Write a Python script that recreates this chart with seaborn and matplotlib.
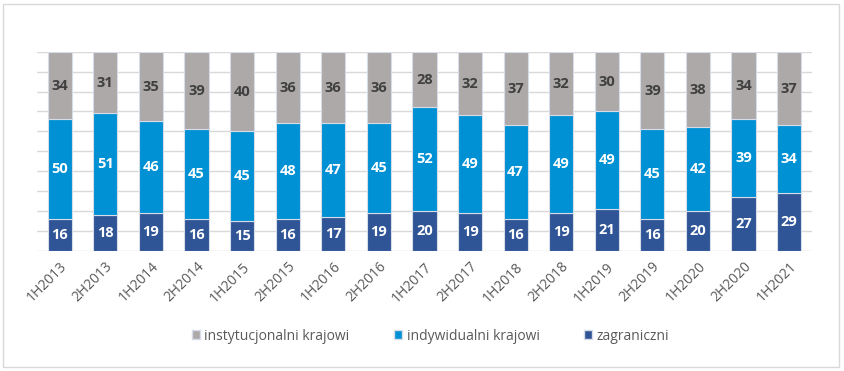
import numpy as np
import pandas as pd
import seaborn as sns
import matplotlib.pyplot as plt
from matplotlib.patches import Patch, FancyBboxPatch

# data (% share)
periods = ['1H2013', '2H2013', '1H2014', '2H2014', '1H2015', '2H2015', '1H2016', '2H2016',
           '1H2017', '2H2017', '1H2018', '2H2018', '1H2019', '2H2019', '1H2020', '2H2020', '1H2021']
zagraniczni = [16, 18, 19, 16, 15, 16, 17, 19, 20, 19, 16, 19, 21, 16, 20, 27, 29]
indywidualni = [50, 51, 46, 45, 45, 48, 47, 45, 52, 49, 47, 49, 49, 45, 42, 39, 34]
instytucjonalni = [34, 31, 35, 39, 40, 36, 36, 36, 28, 32, 37, 32, 30, 39, 38, 34, 37]

series_names = ['zagraniczni', 'indywidualni krajowi', 'instytucjonalni krajowi']
colors = ['#2F5597', '#0090D4', '#ADA9A9']
label_colors = ['white', 'white', '#404040']

df = pd.DataFrame({'okres': periods,
                   'zagraniczni': zagraniczni,
                   'indywidualni krajowi': indywidualni,
                   'instytucjonalni krajowi': instytucjonalni})

sns.set_style('white')
plt.rcParams['font.family'] = ['Open Sans', 'DejaVu Sans']

fig = plt.figure(figsize=(8.44, 3.71), dpi=100)
ax = fig.add_axes([0.0438, 0.3235, 0.9182, 0.5372])

bottom = np.zeros(len(periods))
for name, col, lcol in zip(series_names, colors, label_colors):
    vals = df[name].values
    sns.barplot(data=df, x='okres', y=name, color=col, bottom=bottom, width=0.53,
                saturation=1, edgecolor='#D6DCE8', linewidth=0.8, ax=ax, zorder=3)
    for i, v in enumerate(vals):
        ax.text(i, bottom[i] + v / 2, str(v), ha='center', va='center',
                color=lcol, fontsize=10.5, fontweight='bold', zorder=4)
    bottom = bottom + vals

ax.set_xlim(-0.5, len(periods) - 0.5)
ax.set_ylim(0, 100)
ax.set_yticks(np.arange(0, 101, 10))
ax.set_yticklabels([])
ax.tick_params(axis='y', length=0)
ax.yaxis.grid(True, color='#D9D9D9', linewidth=1, zorder=0)
ax.set_xlabel('')
ax.set_ylabel('')
for s in ax.spines.values():
    s.set_visible(False)
ax.tick_params(axis='x', length=0, pad=6, labelsize=10, labelcolor='#595959')
plt.setp(ax.get_xticklabels(), rotation=45, ha='right', rotation_mode='anchor')

handles = [Patch(facecolor=colors[2], edgecolor='#D6DCE8'),
           Patch(facecolor=colors[1], edgecolor='#D6DCE8'),
           Patch(facecolor=colors[0], edgecolor='#D6DCE8')]
fig.legend(handles, ['instytucjonalni krajowi', 'indywidualni krajowi', 'zagraniczni'],
           loc='center', bbox_to_anchor=(0.51, 0.094), ncol=3, frameon=False,
           fontsize=10, labelcolor='#595959', handlelength=0.6, handleheight=0.6,
           handletextpad=0.3, columnspacing=3.2)

# outer chart border
fig.patches.append(FancyBboxPatch((0.004, 0.012), 0.99, 0.978, boxstyle='square,pad=0',
                                  transform=fig.transFigure, fill=False,
                                  edgecolor='#D9D9D9', linewidth=1))

fig.savefig('out.png', dpi=100)
